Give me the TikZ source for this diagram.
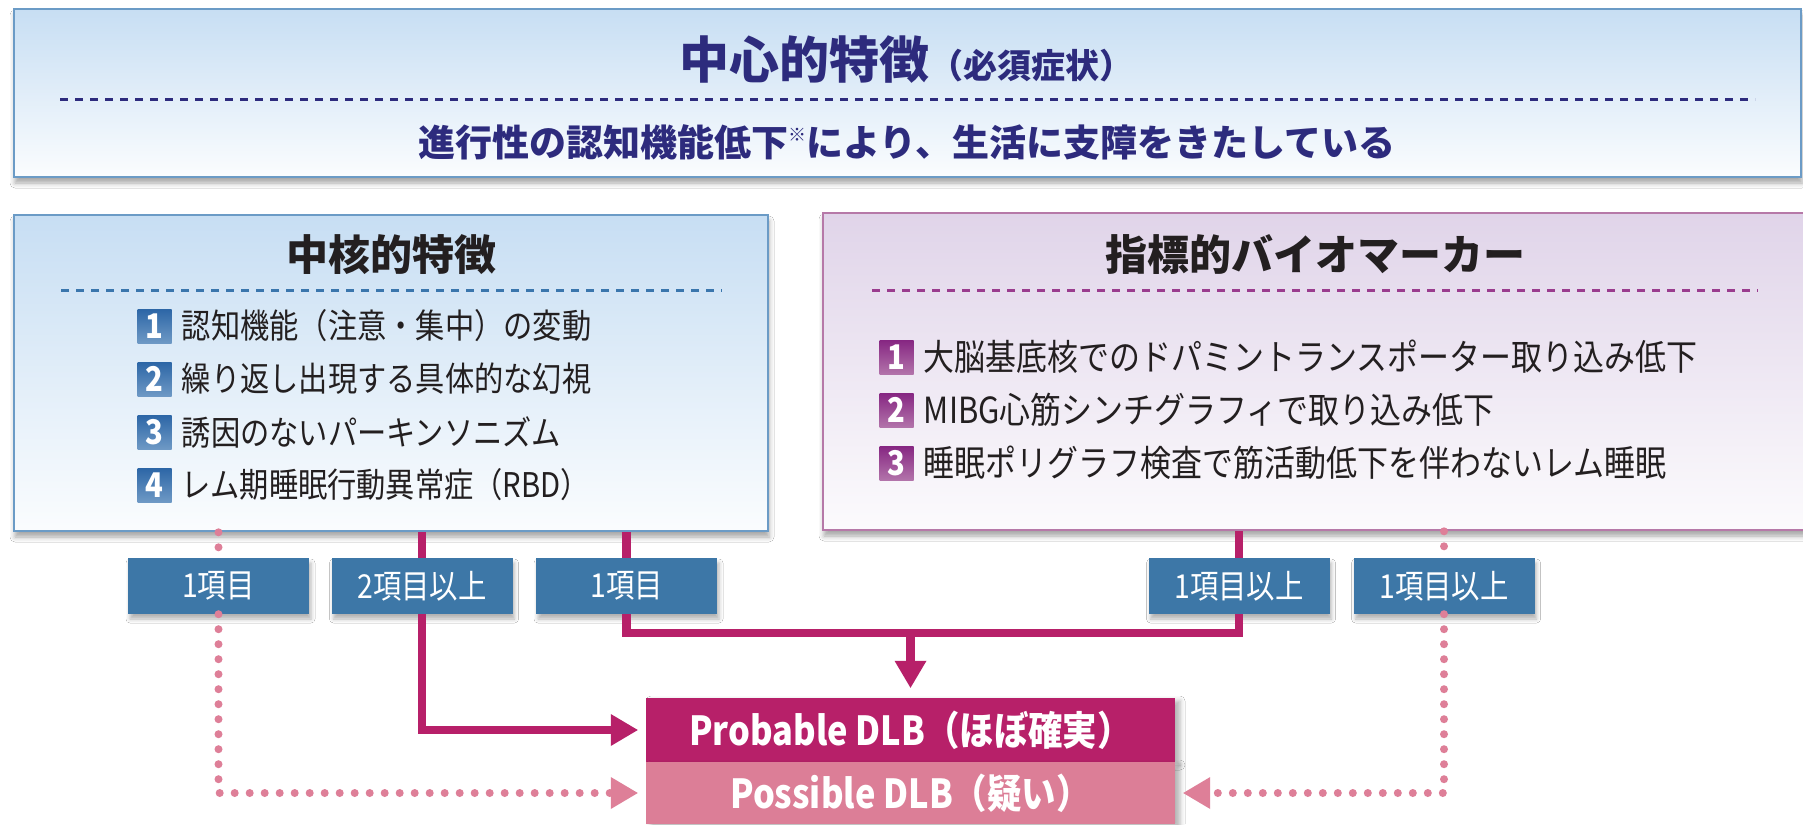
\documentclass[tikz,border=0pt]{standalone}
\usepackage{fontspec}
\newfontfamily\jp{Noto Sans CJK JP}
\newfontfamily\jpc{Noto Sans CJK JP}[FakeStretch=0.86]
\usetikzlibrary{arrows.meta,shadows.blur,calc}
\definecolor{navy}{HTML}{2D2B7D}
\definecolor{boxblue}{HTML}{6B9BC6}
\definecolor{lightblue}{HTML}{C7DEF3}
\definecolor{boxpurple}{HTML}{B679A8}
\definecolor{lightpurple}{HTML}{E0D4E9}
\definecolor{dashblue}{HTML}{3A76AD}
\definecolor{dashpurple}{HTML}{9A3C8E}
\definecolor{countblue}{HTML}{3D77A7}
\definecolor{dlbmag}{HTML}{B72069}
\definecolor{dlbpink}{HTML}{DC7E97}
\definecolor{dotpink}{HTML}{DE7F98}
\definecolor{txt}{HTML}{231F20}
\definecolor{badgeAtop}{HTML}{2C66A6}
\definecolor{badgeAbot}{HTML}{6E99C5}
\definecolor{badgeBtop}{HTML}{862682}
\definecolor{badgeBbot}{HTML}{B273AA}
\tikzset{
  panel/.style={draw, line width=2.6pt, inner sep=0pt,
    blur shadow={shadow xshift=1pt, shadow yshift=-6pt, shadow blur radius=5pt, shadow opacity=35}},
  bluepanel/.style={panel, draw=boxblue, top color=lightblue, bottom color=lightblue!8},
  purplepanel/.style={panel, draw=boxpurple, top color=lightpurple, bottom color=lightpurple!10},
  countbox/.style={fill=countblue, text=white, minimum width=181pt, minimum height=56pt,
    inner sep=0pt, font=\jpc\fontsize{33}{33}\selectfont,
    blur shadow={shadow xshift=2pt, shadow yshift=-5pt, shadow blur radius=4pt, shadow opacity=30}},
  badgeA/.style={minimum width=34pt, minimum height=34pt, inner sep=0pt, text=white,
    top color=badgeAtop, bottom color=badgeAbot, font=\jpc\bfseries\fontsize{34}{34}\selectfont},
  badgeB/.style={badgeA, top color=badgeBtop, bottom color=badgeBbot},
  itemtext/.style={anchor=west, inner sep=0pt, text=txt, font=\jpc\fontsize{34}{34}\selectfont},
  ritemtext/.style={itemtext, font=\jpc\fontsize{36}{36}\selectfont},
  dlbbox/.style={minimum width=529pt, inner sep=0pt, text=white,
    font=\jpc\bfseries\fontsize{40}{40}\selectfont,
    blur shadow={shadow xshift=5pt, shadow yshift=-3pt, shadow blur radius=5pt, shadow opacity=30}},
  link/.style={draw=dlbmag, line width=8.5pt},
  linktip/.style={-{Triangle[length=27pt,width=32pt,line width=0pt]}},
  dotline/.style={draw=dotpink, line width=8pt, line cap=round, dash pattern=on 0pt off 15pt},
  dottip/.style={-{Triangle[length=27pt,width=32pt,line width=0pt,fill=dotpink]}},
  dashsep/.style={line width=3pt, dash pattern=on 8pt off 7pt},
}
\begin{document}
\begin{tikzpicture}[x=1pt,y=1pt]
\fill[white] (0,0) rectangle (1803,-824);
\useasboundingbox (0,0) rectangle (1803,-824);

% panels
\node[bluepanel, minimum width=1787pt, minimum height=168pt] (top) at (907.5,-93) {};
\node[bluepanel, minimum width=754pt, minimum height=316pt] (lbox) at (391,-373) {};
\node[purplepanel, minimum width=992pt, minimum height=317pt] (rbox) at (1319,-371.5) {};

% top panel contents
\node[text=navy, inner sep=0pt] (ttl) at (906,-60)
  {\jp\bfseries\fontsize{50}{50}\selectfont 中心的特徴\fontsize{34}{34}\selectfont（必須症状）};
\draw[navy, dashsep] (60,-100) -- (1755,-100);
\node[text=navy, inner sep=0pt] (sub) at (907,-142)
  {\jp\bfseries\fontsize{37}{37}\selectfont 進行性の認知機能低下\raisebox{15pt}{\fontsize{18}{18}\selectfont ※}により、生活に支障をきたしている};

% left panel
\node[text=txt, inner sep=0pt] (ltitle) at (391,-255) {\jp\bfseries\fontsize{42}{42}\selectfont 中核的特徴};
\draw[dashblue, dashsep] (61,-290) -- (722,-290);
\node[badgeA] (la1) at (154.5,-326) {1};
\node[badgeA] (la2) at (154.5,-379) {2};
\node[badgeA] (la3) at (154.5,-432) {3};
\node[badgeA] (la4) at (154.5,-485) {4};
\node[itemtext] (lt1) at ($(la1.east)+(10pt,0)$) {認知機能（注意・集中）の変動};
\node[itemtext] (lt2) at ($(la2.east)+(10pt,0)$) {繰り返し出現する具体的な幻視};
\node[itemtext] (lt3) at ($(la3.east)+(10pt,0)$) {誘因のないパーキンソニズム};
\node[itemtext] (lt4) at ($(la4.east)+(10pt,0)$) {レム期睡眠行動異常症（RBD）};

% right panel
\node[text=txt, inner sep=0pt] (rtitle) at (1315,-255) {\jp\bfseries\fontsize{42}{42}\selectfont 指標的バイオマーカー};
\draw[dashpurple, dashsep] (872,-290) -- (1758,-290);
\node[badgeB] (rb1) at (896.5,-357) {1};
\node[badgeB] (rb2) at (896.5,-410) {2};
\node[badgeB] (rb3) at (896.5,-463) {3};
\node[ritemtext] (rt1) at ($(rb1.east)+(10pt,0)$) {大脳基底核でのドパミントランスポーター取り込み低下};
\node[ritemtext] (rt2) at ($(rb2.east)+(10pt,0)$) {MIBG心筋シンチグラフィで取り込み低下};
\node[ritemtext] (rt3) at ($(rb3.east)+(10pt,0)$) {睡眠ポリグラフ検査で筋活動低下を伴わないレム睡眠};

% count labels
\node[countbox] (c1) at (218.5,-586) {1項目};
\node[countbox] (c2) at (422,-586) {2項目以上};
\node[countbox] (c3) at (626.5,-586) {1項目};
\node[countbox] (c4) at (1239,-586) {1項目以上};
\node[countbox] (c5) at (1444,-586) {1項目以上};

% result boxes
\node[dlbbox, fill=dlbmag, minimum height=64pt] (prob) at (910.5,-730) {Probable DLB（ほぼ確実）};
\node[dlbbox, fill=dlbpink, minimum height=62pt] (poss) at (910.5,-793) {Possible DLB（疑い）};

% solid connectors
\coordinate (junc) at (910.5,-633);
\draw[link] (c2.north |- lbox.south) -- (c2.north);
\draw[link] (c3.north |- lbox.south) -- (c3.north);
\draw[link] (c4.north |- rbox.south) -- (c4.north);
\draw[link, linktip, shorten >=8pt] (c2.south) |- (prob.west);
\draw[link] (c3.south) |- (junc) -| (c4.south);
\draw[link, linktip, shorten >=10pt] (junc) -- (prob.north);

% dotted connectors
\draw[dotline] (c1.north |- lbox.south) -- (c1.north);
\draw[dotline] (c5.north |- rbox.south) -- (c5.north);
\draw[dotline, dottip, shorten >=8pt] (c1.south) |- (poss.west);
\draw[dotline, dottip, shorten >=8pt] (c5.south) |- (poss.east);
\end{tikzpicture}
\end{document}
